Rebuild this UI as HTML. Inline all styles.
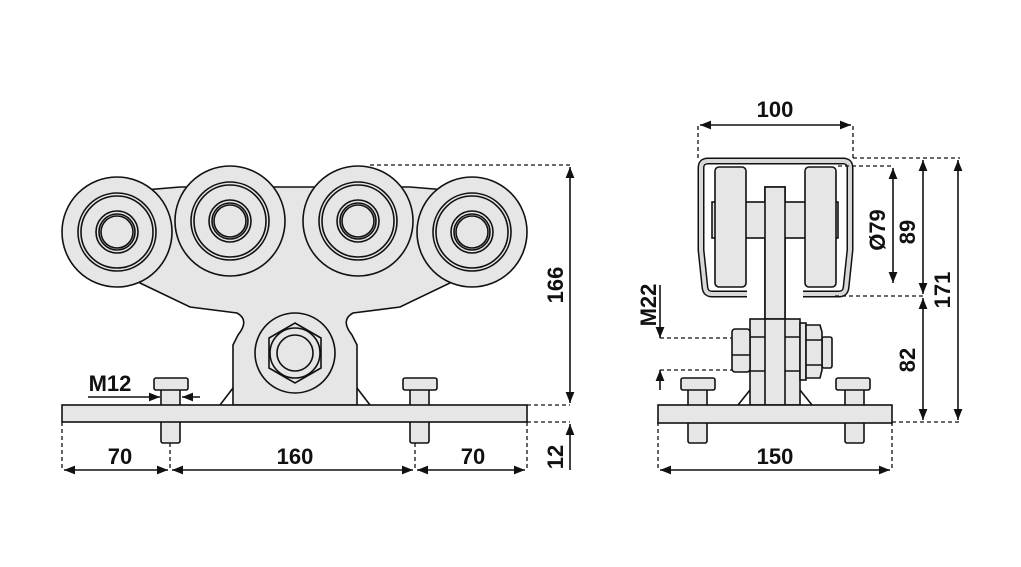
<!DOCTYPE html>
<html><head><meta charset="utf-8"><style>
html,body{margin:0;padding:0;background:#fff;}
svg{display:block;}
text{font-family:"Liberation Sans",sans-serif;font-weight:bold;font-size:22px;fill:#111;}
</style></head><body>
<svg width="1021" height="567" viewBox="0 0 1021 567" xmlns="http://www.w3.org/2000/svg">
<defs>
<marker id="a" viewBox="0 0 10 10" refX="10" refY="5" markerWidth="7" markerHeight="7" orient="auto-start-reverse"><path d="M0,1 L10,5 L0,9 Z" fill="#111"/></marker>
</defs>
<g stroke="#111" stroke-width="1.6" fill="#e6e6e6">
<!-- LEFT VIEW body -->
<path d="M140,283 L190,307 L237,313 Q250,320 238,335 L233,345 L233,405 L357,405 L357,345 L352,335 Q340,320 353,313 L400,307 L450,283 L470,192 L410,187 L180,187 L120,192 Z"/>
<path d="M220,405 L233,388 M370,405 L357,388" fill="none"/>
<circle cx="295" cy="353" r="40"/>
<polygon points="295,323 321,338 321,368 295,383 269,368 269,338"/>
<circle cx="295" cy="353" r="25"/>
<circle cx="295" cy="353" r="18"/>
<!-- wheels -->
<g>
<circle cx="117" cy="232" r="55"/><circle cx="117" cy="232" r="39" fill="none"/><circle cx="117" cy="232" r="36" fill="none"/><circle cx="117" cy="232" r="21"/><circle cx="117" cy="232" r="18" fill="none"/><circle cx="117" cy="232" r="16" fill="none"/>
<circle cx="472" cy="232" r="55"/><circle cx="472" cy="232" r="39" fill="none"/><circle cx="472" cy="232" r="36" fill="none"/><circle cx="472" cy="232" r="21"/><circle cx="472" cy="232" r="18" fill="none"/><circle cx="472" cy="232" r="16" fill="none"/>
<circle cx="230" cy="221" r="55"/><circle cx="230" cy="221" r="39" fill="none"/><circle cx="230" cy="221" r="36" fill="none"/><circle cx="230" cy="221" r="21"/><circle cx="230" cy="221" r="18" fill="none"/><circle cx="230" cy="221" r="16" fill="none"/>
<circle cx="358" cy="221" r="55"/><circle cx="358" cy="221" r="39" fill="none"/><circle cx="358" cy="221" r="36" fill="none"/><circle cx="358" cy="221" r="21"/><circle cx="358" cy="221" r="18" fill="none"/><circle cx="358" cy="221" r="16" fill="none"/>
</g>
<!-- bolts left view -->
<rect x="161" y="385" width="19" height="58" rx="2"/>
<rect x="154" y="378" width="34" height="12" rx="2"/>
<rect x="410" y="385" width="19" height="58" rx="2"/>
<rect x="403" y="378" width="34" height="12" rx="2"/>
<rect x="62" y="405" width="465" height="17"/>

<!-- RIGHT VIEW -->
<path d="M738,405 L750,390 M812,405 L800,390" fill="none"/>
<rect x="765" y="187" width="20" height="218"/>
<rect x="712" y="202" width="126" height="36"/>
<rect x="715" y="167" width="31" height="120" rx="4"/>
<rect x="805" y="167" width="31" height="120" rx="4"/>
<rect x="765" y="187" width="20" height="140"/>
<rect x="750" y="319" width="50" height="86"/>
<path d="M750,337 H800 M750,371 H800" fill="none"/>
<rect x="732" y="329" width="18" height="43" rx="3"/>
<path d="M732,355 H750" fill="none"/>
<rect x="765" y="319" width="20" height="86"/>
<rect x="800" y="323" width="6" height="57"/>
<rect x="822" y="337" width="10" height="31" rx="2"/>
<path d="M806,325 H820 L822,332 V370 L820,378 H806 Z"/>
<path d="M806,340 H822 M806,365 H822" fill="none"/>
<!-- frame -->
<path d="M747,294 H712 Q706,294 705,288 L701,250 V168 Q701,161 708,161 H843 Q850,161 850,168 V250 L846,288 Q845,294 839,294 H803" fill="none" stroke="#111" stroke-width="7"/>
<path d="M747,294 H712 Q706,294 705,288 L701,250 V168 Q701,161 708,161 H843 Q850,161 850,168 V250 L846,288 Q845,294 839,294 H803" fill="none" stroke="#d8d8d8" stroke-width="4"/>
<!-- bolts right view -->
<rect x="688" y="385" width="19" height="58" rx="2"/>
<rect x="681" y="378" width="34" height="12" rx="2"/>
<rect x="845" y="385" width="19" height="58" rx="2"/>
<rect x="836" y="378" width="34" height="12" rx="2"/>
<rect x="658" y="405" width="234" height="18"/>
</g>

<!-- dimensions -->
<g stroke="#111" stroke-width="1.3" fill="none" stroke-dasharray="4,3">
<path d="M370,165 H570 M527,405 H570 M527,422 H570"/>
<path d="M62,422 V470 M170,443 V470 M415,443 V470 M527,422 V470"/>
<path d="M698,158 V125 M853,158 V125 M853,158 H960 M838,166 H893 M835,296 H923 M892,422 H960"/>
<path d="M658,422 V470 M892,422 V470 M660,338 H732 M660,370 H732"/>
</g>
<g stroke="#111" stroke-width="1.6" fill="none">
<path d="M570,167 V403" marker-start="url(#a)" marker-end="url(#a)"/>
<path d="M570,424 V470" marker-start="url(#a)"/>
<path d="M64,470 H168" marker-start="url(#a)" marker-end="url(#a)"/>
<path d="M172,470 H413" marker-start="url(#a)" marker-end="url(#a)"/>
<path d="M417,470 H525" marker-start="url(#a)" marker-end="url(#a)"/>
<path d="M88,397 H160" marker-end="url(#a)"/>
<path d="M200,397 H182" marker-end="url(#a)"/>
<path d="M700,125 H851" marker-start="url(#a)" marker-end="url(#a)"/>
<path d="M893,168 V283" marker-start="url(#a)" marker-end="url(#a)"/>
<path d="M923,160 V294" marker-start="url(#a)" marker-end="url(#a)"/>
<path d="M923,298 V420" marker-start="url(#a)" marker-end="url(#a)"/>
<path d="M958,160 V420" marker-start="url(#a)" marker-end="url(#a)"/>
<path d="M660,470 H890" marker-start="url(#a)" marker-end="url(#a)"/>
<path d="M660,285 V338" marker-end="url(#a)"/>
<path d="M660,390 V370" marker-end="url(#a)"/>
</g>
<text x="120" y="464" text-anchor="middle">70</text>
<text x="295" y="464" text-anchor="middle">160</text>
<text x="473" y="464" text-anchor="middle">70</text>
<text x="110" y="391" text-anchor="middle">M12</text>
<text transform="translate(563,285) rotate(-90)" text-anchor="middle">166</text>
<text transform="translate(563,457) rotate(-90)" text-anchor="middle">12</text>
<text x="775" y="117" text-anchor="middle">100</text>
<text x="775" y="464" text-anchor="middle">150</text>
<text transform="translate(885,230) rotate(-90)" text-anchor="middle">Ø79</text>
<text transform="translate(915,232) rotate(-90)" text-anchor="middle">89</text>
<text transform="translate(915,360) rotate(-90)" text-anchor="middle">82</text>
<text transform="translate(950,290) rotate(-90)" text-anchor="middle">171</text>
<text transform="translate(656,305) rotate(-90)" text-anchor="middle">M22</text>
</svg>
</body></html>
